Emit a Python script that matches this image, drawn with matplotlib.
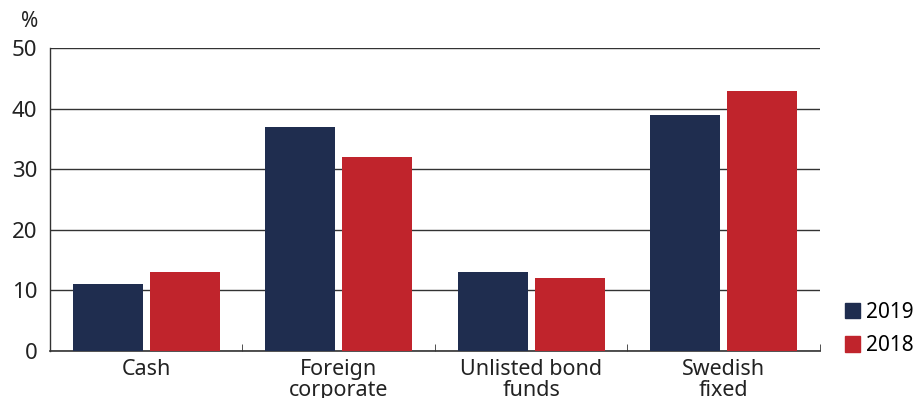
import numpy as np
import matplotlib
matplotlib.use("Agg")
import matplotlib.pyplot as plt
from matplotlib.patches import Patch

# values (%)
categories = ["Cash", "Foreign\ncorporate", "Unlisted bond\nfunds", "Swedish\nfixed"]
y2019 = [11, 37, 13, 39]
y2018 = [13, 32, 12, 43]
series_names = ["2019", "2018"]
yticks = [0, 10, 20, 30, 40, 50]

navy = "#1f2d4f"
red = "#c0242c"

plt.rcParams["font.family"] = ["Noto Sans", "DejaVu Sans"]

fig = plt.figure(figsize=(9.17, 3.98), dpi=100)
ax = fig.add_axes([0.0545, 0.118, 0.894 - 0.0545, 0.879 - 0.118])

x = np.arange(len(categories))
w = 0.364
ax.bar(x - 0.2, y2019, width=w, color=navy, zorder=3)
ax.bar(x + 0.2, y2018, width=w, color=red, zorder=3)

ax.set_xlim(-0.5, len(categories) - 0.5)
ax.set_ylim(0, 50)
ax.set_yticks(yticks)
ax.yaxis.grid(True, color="#333333", linewidth=1.0, zorder=0)
ax.set_axisbelow(True)

for s in ["top", "right"]:
    ax.spines[s].set_visible(False)
ax.spines["left"].set_color("#333333")
ax.spines["bottom"].set_color("#333333")
ax.spines["left"].set_linewidth(1.0)
ax.spines["bottom"].set_linewidth(1.2)

ax.set_xticks(x)
ax.set_xticklabels(categories, fontsize=15.5, color="#222222", linespacing=0.95, va="top")
ax.tick_params(axis="x", which="major", length=0, pad=6)
ax.set_xticks(np.arange(0.5, len(categories), 1.0), minor=True)
ax.tick_params(axis="x", which="minor", direction="in", length=5, color="#333333")
ax.tick_params(axis="y", length=0, pad=9, labelsize=16, labelcolor="#222222")

fig.text(0.023, 0.945, "%", fontsize=15, color="#222222", ha="left", va="center")

handles = [Patch(color=navy), Patch(color=red)]
fig.legend(handles, series_names, loc="lower left", bbox_to_anchor=(0.921, 0.105),
           frameon=False, fontsize=15, handlelength=0.75, handleheight=0.75,
           handletextpad=0.3, labelspacing=0.6, borderpad=0, borderaxespad=0)

fig.savefig("out.png", dpi=100)
